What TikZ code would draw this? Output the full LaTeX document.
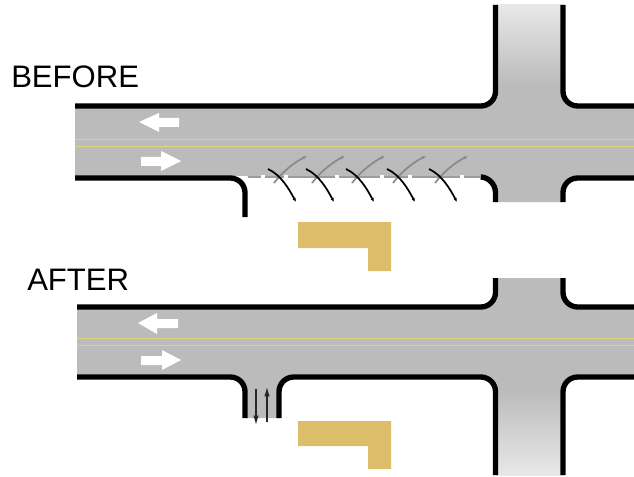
\documentclass[tikz,border=0pt]{standalone}
\usepackage{fontspec}
\setmainfont{Liberation Sans}
\usetikzlibrary{arrows.meta}
\definecolor{roadgrey}{HTML}{BBBBBB}
\definecolor{roadpale}{HTML}{E8E8E8}
\definecolor{centreline}{HTML}{DDD47E}
\definecolor{building}{HTML}{DCBD6A}
\definecolor{shoulder}{HTML}{9C9C9C}
\definecolor{tyretrack}{HTML}{8A8A8A}
\tikzset{
  road/.style={fill=roadgrey,draw=none},
  curb/.style={draw=black,line width=4pt,rounded corners=11pt},
  centre/.style={draw=centreline,line width=0.7pt},
  house/.style={fill=building,draw=none},
  lane/.style={fill=white,draw=none},
  title/.style={font=\fontsize{23.3}{24}\selectfont,inner sep=0pt,anchor=base west},
  skid/.style={draw=black,line width=1.3pt,-{Latex[length=3pt,width=2.5pt]}},
  entry/.style={draw=tyretrack,line width=1.3pt,-{Latex[length=3pt,width=2.5pt]}},
  access/.style={draw=black!85,line width=0.8pt,-{Latex[length=7pt,width=4pt]}},
}
\begin{document}
\begin{tikzpicture}[x=0.75pt,y=-0.75pt]
  \useasboundingbox (0,0) rectangle (634,477);
  \node[title] (before) at (11,88) {BEFORE};
  \node[title] (after) at (27,290) {AFTER};
  % --- upper street ---
  \fill[road] (75,106) [rounded corners=11pt] -- (495.5,106) [sharp corners] -- (495.5,85) -- (563,85)
    [rounded corners=11pt] -- (563,106) [sharp corners] -- (634,106) -- (634,178)
    [rounded corners=11pt] -- (563,178) [sharp corners] -- (563,202) -- (495.5,202)
    [rounded corners=11pt] -- (495.5,178) [sharp corners] -- (482,177) -- (482,176) -- (75,176) -- cycle;
  \shade[top color=roadpale,bottom color=roadgrey] (495.5,5) rectangle (563,85.2);
  \draw[centre] (75,139.5) -- (634,139.5);
  \draw[centre] (75,146) -- (634,146);
  \draw[curb] (75,106) -- (495.5,106) -- (495.5,5);
  \draw[curb] (563,5) -- (563,106) -- (634,106);
  \draw[curb] (75,178) -- (245,178) -- (245,217);
  \draw[curb] (482,177) -- (495.5,178) -- (495.5,202);
  \draw[curb] (634,178) -- (563,178) -- (563,202);
  % open frontage, dashed edge
  \draw[draw=shoulder,line width=1.5pt] (248,177) -- (481,177);
  \foreach \gapx in {263,286,337,382,410,462}
    \fill[white] (\gapx-2,175.5) rectangle (\gapx+2,179);
  \foreach \skidx in {0,38,78,119,161}{
    \draw[entry] (274+\skidx,183) .. controls (283+\skidx,171) and (295+\skidx,162) .. (307+\skidx,156);
    \draw[skid] (268+\skidx,169) .. controls (281+\skidx,175) and (289+\skidx,189) .. (296+\skidx,202);
  }
  \fill[lane] (139,122) -- (159,113) -- (159,118) -- (179,118) -- (179,127) -- (159,127) -- (159,132) -- cycle;
  \fill[lane] (181,161) -- (161,151) -- (161,157) -- (141,157) -- (141,166) -- (161,166) -- (161,171) -- cycle;
  \fill[house] (298,222) -- (391,222) -- (391,271) -- (368,271) -- (368,248) -- (298,248) -- cycle;
  % --- lower street ---
  \fill[road] (77,307) [rounded corners=11pt] -- (495.5,307) [sharp corners] -- (495.5,278) -- (563,278)
    [rounded corners=11pt] -- (563,307) [sharp corners] -- (634,307) -- (634,377)
    [rounded corners=11pt] -- (563,377) [sharp corners] -- (563,390) -- (495.5,390)
    [rounded corners=11pt] -- (495.5,377) -- (279,377) [sharp corners] -- (279,418) -- (245,418)
    [rounded corners=11pt] -- (245,377) [sharp corners] -- (77,377) -- cycle;
  \shade[top color=roadgrey,bottom color=roadpale] (495.5,389.8) rectangle (563,475);
  \draw[centre] (77,338) -- (634,338);
  \draw[centre] (77,345.5) -- (634,345.5);
  \draw[curb] (77,307) -- (495.5,307) -- (495.5,278);
  \draw[curb] (563,278) -- (563,307) -- (634,307);
  \draw[curb] (77,377) -- (245,377) -- (245,418);
  \draw[curb] (279,418) -- (279,377) -- (495.5,377) -- (495.5,475);
  \draw[curb] (634,377) -- (563,377) -- (563,475);
  \coordinate (outtop) at (256,389);
  \coordinate (outend) at (256,425);
  \coordinate (intop) at (267,387);
  \coordinate (inend) at (267,422);
  \draw[access] (outtop) -- (outend);
  \draw[access] (inend) -- (intop);
  \fill[lane] (138,323) -- (157,313) -- (157,319) -- (178,319) -- (178,328) -- (157,328) -- (157,334) -- cycle;
  \fill[lane] (181,360) -- (162,350) -- (162,356) -- (141,356) -- (141,365) -- (162,365) -- (162,370) -- cycle;
  \fill[house] (298,421) -- (391,421) -- (391,469) -- (368,469) -- (368,446) -- (298,446) -- cycle;
\end{tikzpicture}
\end{document}
